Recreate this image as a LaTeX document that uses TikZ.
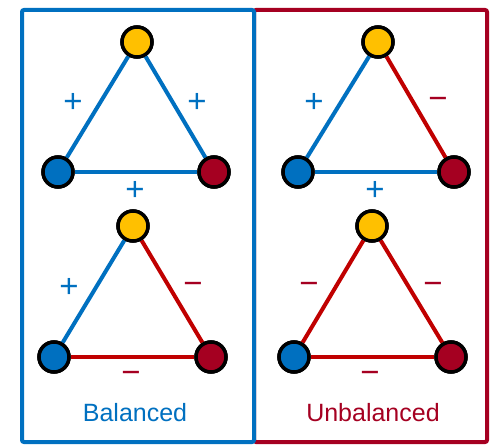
\documentclass[tikz,border=0pt]{standalone}
\usepackage{fontspec}
\setmainfont{Liberation Sans}
\definecolor{cblue}{HTML}{0070C0}
\definecolor{cred}{HTML}{C00000}
\definecolor{cdred}{HTML}{A50021}
\definecolor{cyel}{HTML}{FFC000}
\begin{document}
\begin{tikzpicture}[x=1pt,y=-1pt,
  vert/.style={circle,draw=black,line width=3.5pt,minimum size=30pt,inner sep=0pt},
  yv/.style={vert,fill=cyel},
  bv/.style={vert,fill=cblue},
  rv/.style={vert,fill=cdred},
  pe/.style={draw=cblue,line width=4pt},
  ne/.style={draw=cred,line width=4pt},
  plab/.style={text=cblue,font=\fontsize{33}{33}\selectfont,inner sep=0pt},
  nlab/.style={text=cdred,font=\fontsize{33}{33}\selectfont,inner sep=0pt},
  box/.style={line width=4pt,rounded corners=2pt}
]
\useasboundingbox (0,0) rectangle (493,446);
% boxes
\draw[box,draw=cdred] (254,10) rectangle (487,442);
\draw[box,draw=cblue] (22,10) rectangle (254,442);
% top-left
\node[yv] (a1) at (137,42) {};
\node[bv] (b1) at (58,172) {};
\node[rv] (c1) at (214,172) {};
\path[pe] (a1) -- (b1);
\path[pe] (a1) -- (c1);
\path[pe] (b1) -- (c1);
\node[plab] (l1a) at (73,103) {+};
\node[plab] (l1b) at (197,103) {+};
\node[plab] (l1c) at (135,191) {+};
% top-right
\node[yv] (a2) at (378,42) {};
\node[bv] (b2) at (298,172) {};
\node[rv] (c2) at (454,172) {};
\path[pe] (a2) -- (b2);
\path[ne] (a2) -- (c2);
\path[pe] (b2) -- (c2);
\node[plab] (l2a) at (314,103) {+};
\node[nlab] (l2b) at (438,103) {−};
\node[plab] (l2c) at (375,191) {+};
% bottom-left
\node[yv] (a3) at (133,226) {};
\node[bv] (b3) at (54,357) {};
\node[rv] (c3) at (211,357) {};
\path[pe] (a3) -- (b3);
\path[ne] (a3) -- (c3);
\path[ne] (b3) -- (c3);
\node[plab] (l3a) at (69,288) {+};
\node[nlab] (l3b) at (193,288) {−};
\node[nlab] (l3c) at (131,377) {−};
% bottom-right
\node[yv] (a4) at (372,226) {};
\node[bv] (b4) at (294,357) {};
\node[rv] (c4) at (451,357) {};
\path[ne] (a4) -- (b4);
\path[ne] (a4) -- (c4);
\path[ne] (b4) -- (c4);
\node[nlab] (l4a) at (309,288) {−};
\node[nlab] (l4b) at (433,288) {−};
\node[nlab] (l4c) at (370,377) {−};
% bring vertices above edges
\foreach \n/\s in {a1/yv,b1/bv,c1/rv,a2/yv,b2/bv,c2/rv,a3/yv,b3/bv,c3/rv,a4/yv,b4/bv,c4/rv}{
  \node[\s] at (\n) {};}
% titles
\node[text=cblue,font=\fontsize{25}{25}\selectfont] (t1) at (135,413) {Balanced};
\node[text=cdred,font=\fontsize{25}{25}\selectfont] (t2) at (373,413) {Unbalanced};
\end{tikzpicture}
\end{document}
